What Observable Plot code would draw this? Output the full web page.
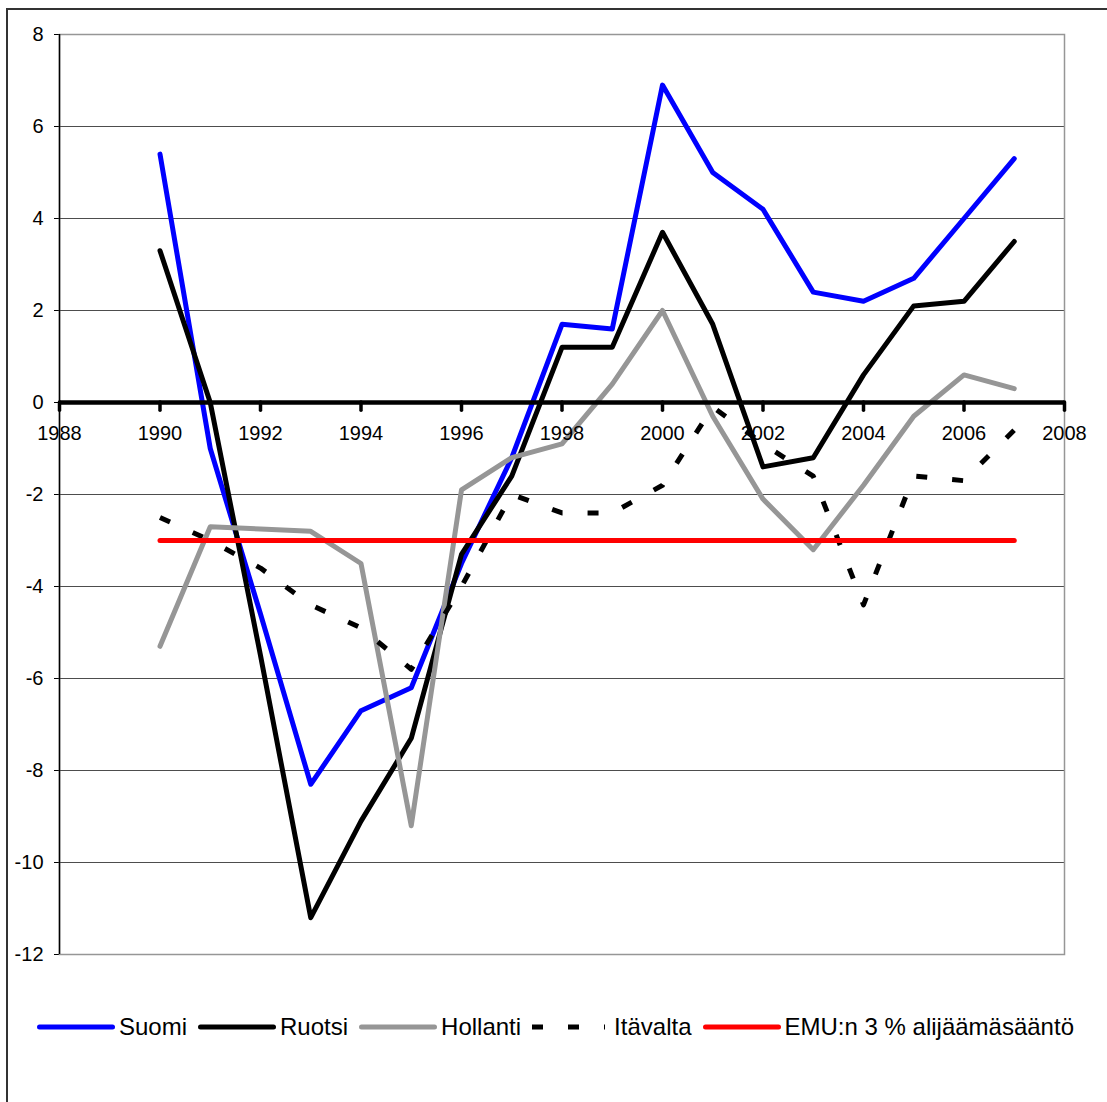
<!DOCTYPE html>
<html>
<head>
<meta charset="utf-8">
<script src="https://cdn.jsdelivr.net/npm/d3@7"></script>
<script src="https://cdn.jsdelivr.net/npm/@observablehq/plot@0.6"></script>
<style>
  html, body { margin: 0; padding: 0; overflow: hidden; background: #fff; }
  #page { position: relative; width: 1107px; height: 1102px; overflow: hidden; font-family: "Liberation Sans", Arial, sans-serif; }
  #border { position: absolute; left: 6px; top: 8px; width: 1300px; height: 1300px; border: 2px solid #333; box-sizing: border-box; }
  #chart { position: absolute; left: 0; top: 0; }
  #legend { position: absolute; left: 37px; top: 1012px; display: flex; align-items: center; height: 30px; font-size: 24px; color: #000; white-space: nowrap; }
  #legend .item { display: flex; align-items: center; margin-right: 11px; }
  #legend svg { display: block; margin-right: 4px; }
</style>
</head>
<body>
<div id="page">
  <div id="border"></div>
  <div id="chart"></div>
  <div id="legend"></div>
</div>
<script>
// Julkisen talouden rahoitusjäämä, % BKT:sta
const years = [1990, 1991, 1992, 1993, 1994, 1995, 1996, 1997, 1998, 1999, 2000, 2001, 2002, 2003, 2004, 2005, 2006, 2007];

const suomi    = [5.4, -1.0, -4.6, -8.3, -6.7, -6.2, -3.5, -1.2, 1.7, 1.6, 6.9, 5.0, 4.2, 2.4, 2.2, 2.7, 4.0, 5.3];
const ruotsi   = [3.3, 0.0, -5.5, -11.2, -9.1, -7.3, -3.3, -1.6, 1.2, 1.2, 3.7, 1.7, -1.4, -1.2, 0.6, 2.1, 2.2, 3.5];
const hollanti = [-5.3, -2.7, -2.75, -2.8, -3.5, -9.2, -1.9, -1.2, -0.9, 0.4, 2.0, -0.3, -2.1, -3.2, -1.8, -0.3, 0.6, 0.3];
const itavalta = [-2.5, -3.0, -3.6, -4.4, -4.9, -5.8, -4.0, -2.0, -2.4, -2.4, -1.8, -0.1, -0.9, -1.6, -4.4, -1.6, -1.7, -0.6];
const emuRaja  = [-3, -3, -3, -3, -3, -3, -3, -3, -3, -3, -3, -3, -3, -3, -3, -3, -3, -3];

const seriesNames = ["Suomi", "Ruotsi", "Hollanti", "Itävalta", "EMU:n 3 % alijäämäsääntö"];
const seriesValues = [suomi, ruotsi, hollanti, itavalta, emuRaja];
const seriesColors = ["#0000ff", "#000000", "#969696", "#000000", "#ff0000"];
const seriesDash = [null, null, null, "11,25", null];

const xTicks = [1988, 1990, 1992, 1994, 1996, 1998, 2000, 2002, 2004, 2006, 2008];
const yTicks = [-12, -10, -8, -6, -4, -2, 0, 2, 4, 6, 8];
const gridValues = [-10, -8, -6, -4, -2, 2, 4, 6];

const rows = seriesNames.flatMap((name, i) =>
  years.map((year, j) => ({series: name, year, value: seriesValues[i][j]}))
);

const lineMarks = seriesNames.map((name, i) =>
  Plot.line(rows.filter(d => d.series === name), {
    x: "year",
    y: "value",
    stroke: seriesColors[i],
    strokeWidth: 5,
    strokeLinejoin: "round",
    strokeLinecap: seriesDash[i] ? "butt" : "round",
    strokeDasharray: seriesDash[i] ?? undefined
  })
);

const chart = Plot.plot({
  width: 1107,
  height: 990,
  marginLeft: 59,
  marginRight: 43,
  marginTop: 34,
  marginBottom: 36,
  style: {fontFamily: "'Liberation Sans', Arial, sans-serif", fontSize: "20px", color: "#000", background: "transparent"},
  x: {domain: [1988, 2008], axis: null},
  y: {
    domain: [-12, 8],
    ticks: yTicks,
    tickSize: 5,
    tickPadding: 11,
    tickFormat: d => String(d),
    label: null
  },
  marks: [
    Plot.ruleY(gridValues, {stroke: "#4d4d4d", strokeWidth: 1}),
    Plot.frame({stroke: "#969696", strokeWidth: 1.5}),
    Plot.ruleX([1988], {stroke: "#000", strokeWidth: 1.5}),
    ...lineMarks,
    Plot.ruleY([0], {stroke: "#000", strokeWidth: 4.5}),
    Plot.ruleX(xTicks, {x: d => d, y1: 0, y2: -0.18, stroke: "#000", strokeWidth: 3.5, strokeLinecap: "round"}),
    Plot.text(xTicks, {x: d => d, y: 0, dy: 31.5, text: d => String(d), fontSize: 20, fill: "#000"})
  ]
});
document.getElementById("chart").appendChild(chart);

// Legend: line swatch + series name
const legend = d3.select("#legend");
seriesNames.forEach((name, i) => {
  const item = legend.append("div").attr("class", "item");
  const sw = item.append("svg").attr("width", 78).attr("height", 10);
  sw.append("line")
    .attr("x1", seriesDash[i] ? 0 : 2.5).attr("x2", seriesDash[i] ? 73 : 75.5)
    .attr("y1", 5).attr("y2", 5)
    .attr("stroke", seriesColors[i])
    .attr("stroke-width", 5)
    .attr("stroke-linecap", seriesDash[i] ? "butt" : "round")
    .attr("stroke-dasharray", seriesDash[i]);
  item.append("span").text(name);
});
</script>
</body>
</html>
